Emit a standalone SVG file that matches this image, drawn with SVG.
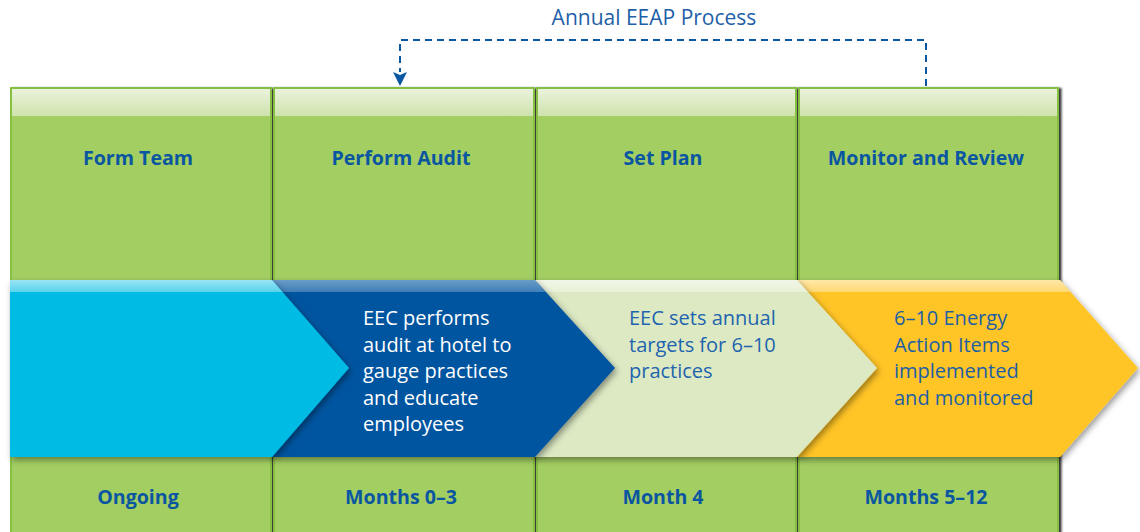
<svg xmlns="http://www.w3.org/2000/svg" width="1140" height="532" viewBox="0 0 1140 532">
  <defs>
    <linearGradient id="capGrad" x1="0" y1="0" x2="0" y2="1">
      <stop offset="0" stop-color="#E9F2DC"/>
      <stop offset="1" stop-color="#CFE3AC"/>
    </linearGradient>
    <linearGradient id="bandGrad" x1="0" y1="0" x2="0" y2="1">
      <stop offset="0" stop-color="#FFFFFF" stop-opacity="0.6"/>
      <stop offset="1" stop-color="#FFFFFF" stop-opacity="0.35"/>
    </linearGradient>
    <filter id="colShadow" x="-5%" y="-5%" width="115%" height="115%">
      <feDropShadow dx="2.5" dy="1" stdDeviation="0.8" flood-color="#1a1a1a" flood-opacity="0.9"/>
    </filter>
    <filter id="arrowShadow" x="-10%" y="-10%" width="125%" height="130%">
      <feDropShadow dx="2" dy="3" stdDeviation="3" flood-color="#000000" flood-opacity="0.4"/>
    </filter>
    <style>
      .col { fill: #A3CE62; stroke: #86BF43; stroke-width: 2; }
      .cap { fill: url(#capGrad); }
      .head { font-family: "Open Sans", "Liberation Sans", sans-serif; font-weight: bold; font-size: 19.6px; fill: #0A56A0; text-anchor: middle; }
      .body { font-family: "Open Sans", "Liberation Sans", sans-serif; font-size: 20px; }
      .band { fill: url(#bandGrad); }
      .link { fill: none; stroke: #0B57A2; stroke-width: 2; stroke-dasharray: 7 5; }
    </style>
  </defs>

  <!-- Title over the feedback loop -->
  <text x="654" y="25" font-family="Open Sans, Liberation Sans, sans-serif" font-size="21" fill="#1F5FA8" text-anchor="middle">Annual EEAP Process</text>

  <!-- Phase columns -->
  <g id="col-form-team">
    <rect class="col" x="11" y="88" width="260" height="452" filter="url(#colShadow)"/>
    <rect class="cap" x="12" y="89" width="258" height="27"/>
    <text class="head" x="138" y="165">Form Team</text>
  </g>
  <g id="col-perform-audit">
    <rect class="col" x="274" y="88" width="260" height="452" filter="url(#colShadow)"/>
    <rect class="cap" x="275" y="89" width="258" height="27"/>
    <text class="head" x="401" y="165">Perform Audit</text>
  </g>
  <g id="col-set-plan">
    <rect class="col" x="537" y="88" width="259" height="452" filter="url(#colShadow)"/>
    <rect class="cap" x="538" y="89" width="257" height="27"/>
    <text class="head" x="663" y="165">Set Plan</text>
  </g>
  <g id="col-monitor-review">
    <rect class="col" x="799" y="88" width="259" height="452" filter="url(#colShadow)"/>
    <rect class="cap" x="800" y="89" width="257" height="27"/>
    <text class="head" x="926" y="165">Monitor and Review</text>
  </g>

  <!-- Chevron band, drawn back to front -->
  <g id="step-implement">
    <path d="M797,280 H1060 L1138,368 L1060,457 H797 Z" fill="#FFC425" filter="url(#arrowShadow)"/>
    <path class="band" d="M797,280 H1060 L1070.5,292 H797 Z"/>
    <text class="body" fill="#1D5FA5">
      <tspan x="894" y="325">6–10 Energy</tspan>
      <tspan x="894" y="351.5">Action Items</tspan>
      <tspan x="894" y="378">implemented</tspan>
      <tspan x="894" y="404.5">and monitored</tspan>
    </text>
  </g>
  <g id="step-targets">
    <path d="M535,280 H797 L877,368 L797,457 H535 Z" fill="#DCE9C3" filter="url(#arrowShadow)"/>
    <path class="band" d="M535,280 H797 L807.5,292 H535 Z"/>
    <text class="body" fill="#1E64AE">
      <tspan x="629" y="325">EEC sets annual</tspan>
      <tspan x="629" y="351.5">targets for 6–10</tspan>
      <tspan x="629" y="378">practices</tspan>
    </text>
  </g>
  <g id="step-audit">
    <path d="M272,280 H535 L615,368 L535,457 H272 Z" fill="#0054A0" filter="url(#arrowShadow)"/>
    <path class="band" d="M272,280 H535 L545.5,292 H272 Z" opacity="0.7"/>
    <text class="body" fill="#FFFFFF">
      <tspan x="363" y="325">EEC performs</tspan>
      <tspan x="363" y="351.5">audit at hotel to</tspan>
      <tspan x="363" y="378">gauge practices</tspan>
      <tspan x="363" y="404.5">and educate</tspan>
      <tspan x="363" y="431">employees</tspan>
    </text>
  </g>
  <g id="step-team">
    <path d="M10,280 H272 L349,368 L272,457 H10 Z" fill="#00BBE3" filter="url(#arrowShadow)"/>
    <path class="band" d="M10,280 H272 L282.5,292 H10 Z"/>
  </g>

  <!-- Timing labels -->
  <g id="timing">
    <text class="head" x="138" y="504">Ongoing</text>
    <text class="head" x="401" y="504">Months 0–3</text>
    <text class="head" x="663" y="504">Month 4</text>
    <text class="head" x="926" y="504">Months 5–12</text>
  </g>

  <!-- Feedback loop from review back to audit -->
  <g id="connectors">
    <path class="link" d="M926,86 V40 H400 V72"/>
    <path d="M393,72 L400,75 L407,72 L400,86 Z" fill="#0B57A2"/>
  </g>
</svg>
